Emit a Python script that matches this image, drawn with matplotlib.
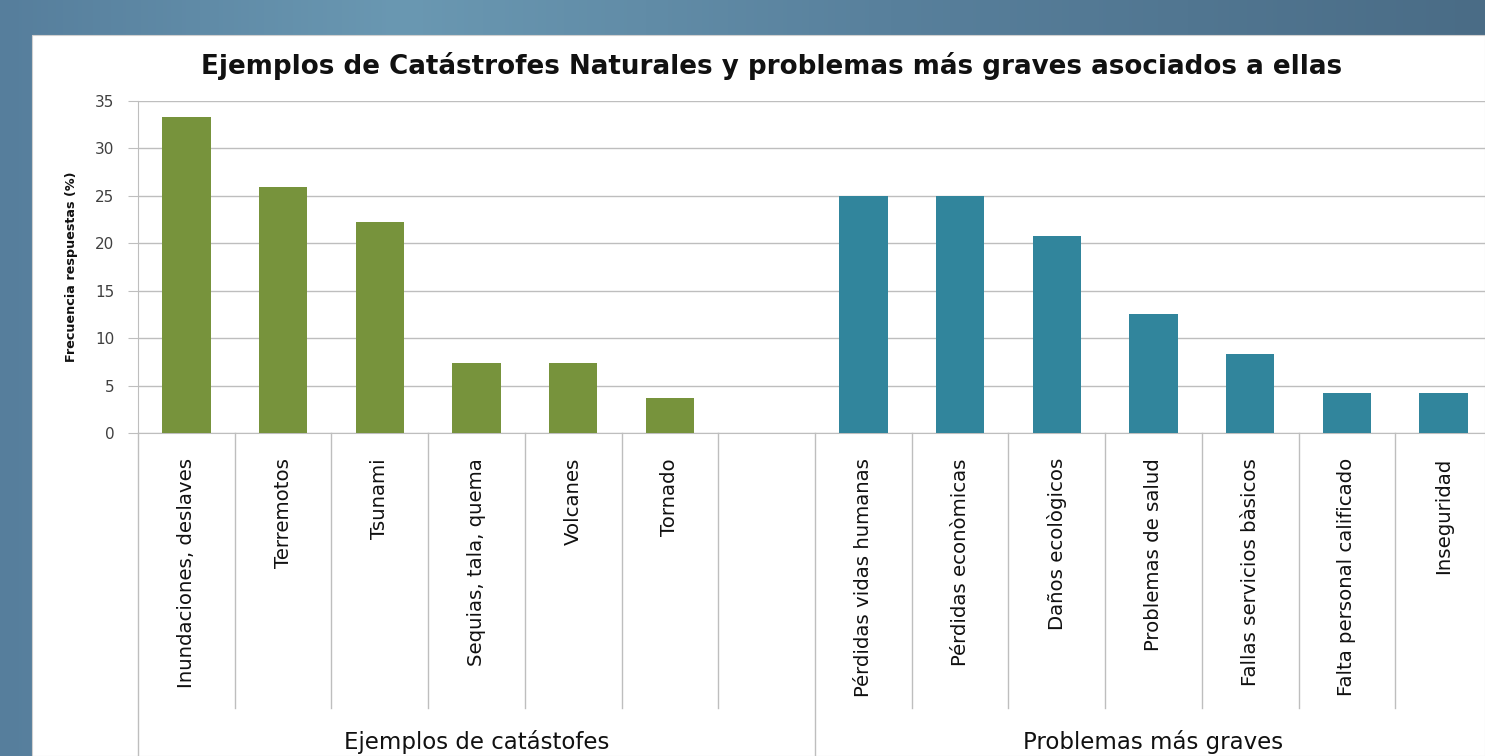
import numpy as np
import matplotlib
matplotlib.use("Agg")
import matplotlib.pyplot as plt
from matplotlib.patches import Rectangle
import matplotlib.transforms as mtransforms

# ---- data ----
cat_labels = ["Inundaciones, deslaves", "Terremotos", "Tsunami", "Sequias, tala, quema",
              "Volcanes", "Tornado"]
cat_values = [33.3, 25.9, 22.2, 7.4, 7.4, 3.7]
prob_labels = ["Pérdidas vidas humanas", "Pérdidas econòmicas", "Daños ecològicos",
               "Problemas de salud", "Fallas servicios bàsicos", "Falta personal calificado",
               "Inseguridad"]
prob_values = [25.0, 25.0, 20.8, 12.5, 8.3, 4.2, 4.2]
group_labels = ["Ejemplos de catástofes", "Problemas más graves"]
title = "Ejemplos de Catástrofes Naturales y problemas más graves asociados a ellas"
ylabel = "Frecuencia respuestas (%)"
yticks = [0, 5, 10, 15, 20, 25, 30, 35]

W, H = 1485, 756
fig = plt.figure(figsize=(W / 100, H / 100), dpi=100)

# background gradient
bg = fig.add_axes([0, 0, 1, 1], zorder=-10)
stops_x = [0.0, 0.27, 0.6, 1.0]
stops_c = np.array([[86, 126, 156], [106, 152, 178], [88, 128, 156], [74, 108, 134]]) / 255
xs = np.linspace(0, 1, 400)
grad = np.stack([np.interp(xs, stops_x, stops_c[:, k]) for k in range(3)], axis=-1)
bg.imshow(grad[None, :, :], aspect="auto", extent=[0, 1, 0, 1])
bg.set_xlim(0, 1); bg.set_ylim(0, 1)
bg.axis("off")
# white panel
bg.add_patch(Rectangle((32 / W, 0), 1 - 32 / W, 1 - 35 / H, facecolor="white",
                       edgecolor="#d0d0d0", lw=0.8, zorder=2))

left = 138 / W
right = 1492 / W
bottom = 1 - 433 / H
top = 1 - 101 / H
ax = fig.add_axes([left, bottom, right - left, top - bottom])
ax.set_facecolor("none")

green = "#77933C"
teal = "#31859C"
n_slots = 14
cat_pos = np.arange(len(cat_values)) + 0.5
prob_pos = np.arange(len(prob_values)) + 7.5
ax.bar(cat_pos, cat_values, width=0.5, color=green, zorder=3)
ax.bar(prob_pos, prob_values, width=0.5, color=teal, zorder=3)

ax.set_xlim(0, n_slots)
ax.set_ylim(0, 35)
grid_c = "#BEBEBE"
ax.set_yticks(yticks)
ax.yaxis.grid(True, color=grid_c, lw=1.0, zorder=0)
ax.set_axisbelow(True)
for s in ["top", "right"]:
    ax.spines[s].set_visible(False)
ax.spines["left"].set_color(grid_c)
ax.spines["bottom"].set_color(grid_c)
ax.tick_params(axis="y", length=7, color=grid_c, pad=10, labelsize=11, labelcolor="#404040")

ax.set_xticks(list(cat_pos) + list(prob_pos))
ax.set_xticklabels(cat_labels + prob_labels, rotation=90, fontsize=14.2,
                   va="top", ha="center", color="#111111")
ax.tick_params(axis="x", length=0, pad=18)

# category dividers
tr = mtransforms.blended_transform_factory(ax.transData, ax.transAxes)
y_short = -(708 - 433) / 332
y_long = -(800 - 433) / 332
for i in range(n_slots + 1):
    yb = y_long if i in (0, 7, 14) else y_short
    ax.plot([i, i], [0, yb], transform=tr, color=grid_c, lw=1.0, clip_on=False)

# group labels
for gi, g in enumerate(group_labels):
    ax.text(3.5 + 7 * gi, -(754 - 433) / 332, g, transform=tr, ha="center", va="bottom",
            fontsize=16.5, color="#111111", clip_on=False)

fig.text(772 / W, 1 - 66 / H, title, ha="center", va="center", fontsize=18.8,
         fontweight="bold", color="#111111")
fig.text(72 / W, 1 - 267 / H, ylabel, ha="center", va="center", rotation=90,
         fontsize=9.2, fontweight="bold", color="#111111")

fig.savefig("out.png", dpi=100)
